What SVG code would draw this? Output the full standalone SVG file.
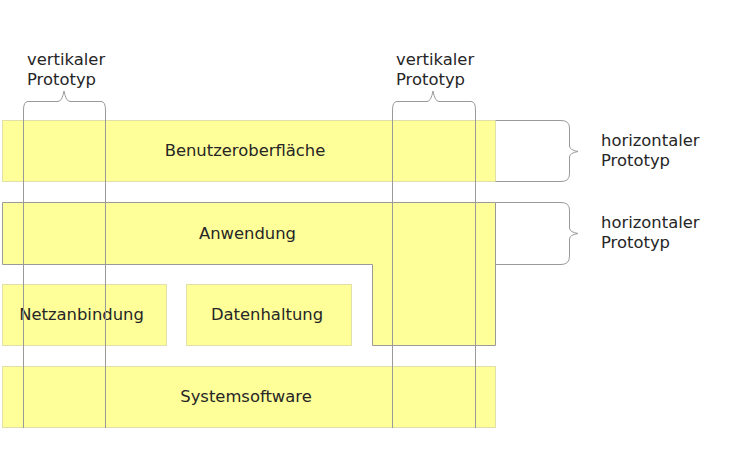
<svg xmlns="http://www.w3.org/2000/svg" width="746" height="467" viewBox="0 0 746 467">
<style>
.box{fill:#ffff99;stroke:#e0e0a8;stroke-width:1}
.lbox{fill:#ffff99;stroke:#9a9a9a;stroke-width:1}
.t{font-family:"DejaVu Sans",Verdana,sans-serif;font-size:16.4px;fill:#262626}
.c{text-anchor:middle}
.ln{fill:none;stroke:#9a9a9a;stroke-width:1}
</style>
<rect width="746" height="467" fill="#fff"/>
<g id="benutzeroberflaeche">
<rect class="box" x="2.5" y="120.5" width="493" height="61"/>
<text class="t c" x="245" y="156">Benutzeroberfläche</text>
</g>
<g id="anwendung">
<path class="lbox" d="M2.5 202.5H495.5V345.5H372.5V264.5H2.5Z"/>
<text class="t c" x="247.5" y="239">Anwendung</text>
</g>
<g id="netzanbindung">
<rect class="box" x="2.5" y="284.5" width="164" height="61"/>
<text class="t c" x="81.5" y="320">Netzanbindung</text>
</g>
<g id="datenhaltung">
<rect class="box" x="186.5" y="284.5" width="165" height="61"/>
<text class="t c" x="267" y="320">Datenhaltung</text>
</g>
<g id="systemsoftware">
<rect class="box" x="2.5" y="366.5" width="493" height="61"/>
<text class="t c" x="246" y="402">Systemsoftware</text>
</g>
<g id="labels">
<text class="t" x="27" y="65">vertikaler</text>
<text class="t" x="27" y="84.5">Prototyp</text>
<text class="t" x="396" y="65">vertikaler</text>
<text class="t" x="396" y="84.5">Prototyp</text>
<text class="t" x="601" y="146">horizontaler</text>
<text class="t" x="601" y="166">Prototyp</text>
<text class="t" x="601" y="228">horizontaler</text>
<text class="t" x="601" y="248">Prototyp</text>
</g>
<g id="connectors">
<path class="ln" d="M23.5 110V428M105.5 110V428M392.5 110V428M475.5 110V428"/>
<path class="ln" d="M23.5 110Q23.5 101.5 28 101.5H58Q62 101.5 64 91Q66 101.5 70 101.5H101Q105.5 101.5 105.5 110"/>
<path class="ln" d="M392.5 110Q392.5 101.5 397 101.5H427Q431 101.5 433 91Q435 101.5 439 101.5H471Q475.5 101.5 475.5 110"/>
<path class="ln" d="M495.5 120.5H561Q569.5 120.5 569.5 128V146Q569.5 150 578 151.5Q569.5 153 569.5 157V174Q569.5 181.5 561 181.5H495.5"/>
<path class="ln" d="M495.5 202.5H561Q569.5 202.5 569.5 210V228Q569.5 232 578 233.5Q569.5 235 569.5 239V256Q569.5 264.5 561 264.5H495.5"/>
</g>
</svg>
